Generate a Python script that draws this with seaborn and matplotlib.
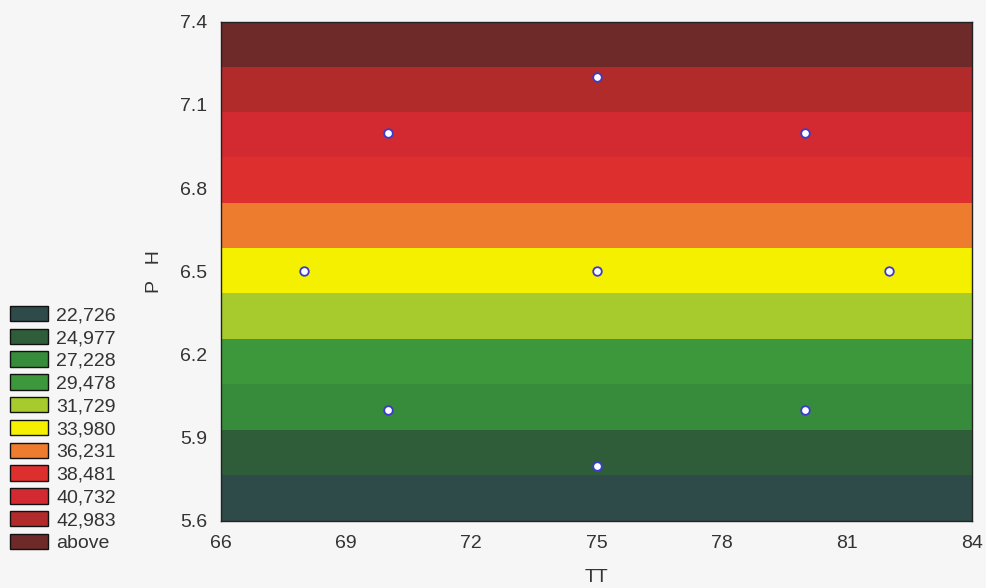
import numpy as np
import matplotlib
matplotlib.use("Agg")
import matplotlib.pyplot as plt
from matplotlib.patches import Patch
import seaborn as sns
import pandas as pd

# ---- data ----
tt_grid = [66, 84]
ph_grid = [5.6, 7.4]
z_at_ph = [20.44, 45.21]          # fitted response at bottom / top pH edge (linear in pH)
levels = [22.726, 24.977, 27.228, 29.478, 31.729, 33.980, 36.231, 38.481, 40.732, 42.983]
level_labels = ["22,726", "24,977", "27,228", "29,478", "31,729", "33,980",
                "36,231", "38,481", "40,732", "42,983", "above"]
band_colors = ["#2e4b49", "#2f5d39", "#368c3a", "#3d973b", "#a7cb2c", "#f5f000",
               "#ee7c2e", "#de2f2f", "#d22a30", "#b22b2b", "#6e2a28"]
pts_tt = [68, 70, 70, 75, 75, 75, 80, 80, 82]
pts_ph = [6.5, 7.0, 6.0, 7.2, 6.5, 5.8, 7.0, 6.0, 6.5]
xticks = [66, 69, 72, 75, 78, 81, 84]
yticks = [5.6, 5.9, 6.2, 6.5, 6.8, 7.1, 7.4]

sns.set_style("white")
plt.rcParams['font.family'] = ['Liberation Sans', 'DejaVu Sans']

fig = plt.figure(figsize=(9.86, 5.88), dpi=100)
fig.patch.set_facecolor("#f6f6f6")
ax = fig.add_axes([0.224, 0.114, 0.762, 0.849])

X, Y = np.meshgrid(tt_grid, ph_grid)
Z = np.array([[z_at_ph[0]] * 2, [z_at_ph[1]] * 2])
bounds = [z_at_ph[0] - 1] + levels + [z_at_ph[1] + 1]
ax.contourf(X, Y, Z, levels=bounds, colors=band_colors)

df = pd.DataFrame({"TT": pts_tt, "PH": pts_ph})
sns.scatterplot(data=df, x="TT", y="PH", ax=ax, s=38, color="white",
                edgecolor="#3a3ad0", linewidth=1.3, zorder=5)

ax.set_xlim(66, 84)
ax.set_ylim(5.6, 7.4)
ax.set_xticks(xticks)
ax.set_yticks(yticks)
ax.set_xticklabels([str(v) for v in xticks])
ax.set_yticklabels([f"{v:.1f}" for v in yticks])
ax.tick_params(axis="both", labelsize=14, direction="in",
               length=4, width=0.8, colors="#222222")
ax.tick_params(axis="x", pad=10)
ax.tick_params(axis="y", pad=10)
ax.tick_params(axis="both", labelcolor="#333333")
ax.set_xlabel("TT", fontsize=14, color="#333333", labelpad=12)
ax.set_ylabel("P   H", fontsize=14, color="#333333", labelpad=12)
for sp in ax.spines.values():
    sp.set_color("#222222")
    sp.set_linewidth(1.0)

handles = [Patch(facecolor=c, edgecolor="#111111", linewidth=1.0) for c in band_colors]
fig.legend(handles, level_labels, loc="lower left", bbox_to_anchor=(-0.004, 0.038),
           frameon=False, fontsize=14, handlelength=1.95, handleheight=0.85,
           labelspacing=0.22, handletextpad=0.45, borderpad=0.2, labelcolor="#333333")

fig.savefig("out.png", dpi=100, facecolor=fig.get_facecolor())
